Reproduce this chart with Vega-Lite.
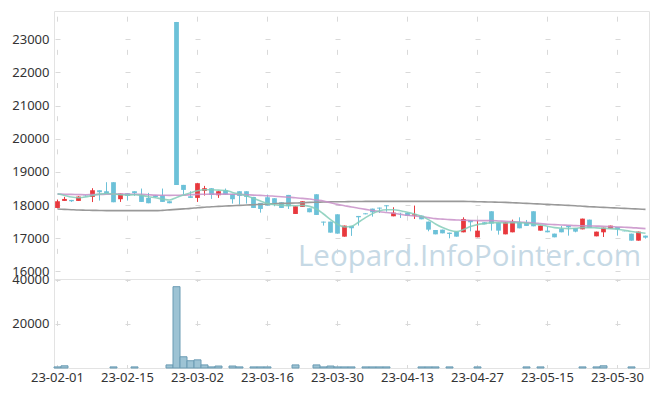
{
  "$schema": "https://vega.github.io/schema/vega-lite/v6.json",
  "background": "white",
  "padding": {"left": 5, "top": 10, "right": 9, "bottom": 0},
  "bounds": "flush",
  "config": {
    "view": {"stroke": "#e3e3e3", "strokeWidth": 1},
    "axis": {"labelFont": "Noto Sans", "labelFontSize": 13, "labelColor": "#333333", "title": null, "ticks": false, "domain": false, "gridColor": "#d9d9d9", "gridWidth": 1, "labelOverlap": false}
  },
  "datasets": {
    "k": [
      {"d":"23-02-01","o":17912,"h":18165,"l":17900,"c":18114,"v":500,"m5":18340,"m20":18330,"m60":17880},
      {"d":"23-02-02","o":18124,"h":18245,"l":18124,"c":18184,"v":1000,"m5":18290,"m20":18325,"m60":17870},
      {"d":"23-02-03","o":18155,"h":18155,"l":18094,"c":18114,"v":0,"m5":18240,"m20":18320,"m60":17860},
      {"d":"23-02-06","o":18124,"h":18265,"l":18124,"c":18255,"v":0,"m5":18220,"m20":18315,"m60":17850},
      {"d":"23-02-07","o":18285,"h":18295,"l":18255,"c":18265,"v":0,"m5":18240,"m20":18310,"m60":17845},
      {"d":"23-02-08","o":18245,"h":18507,"l":18090,"c":18446,"v":0,"m5":18290,"m20":18315,"m60":17840},
      {"d":"23-02-09","o":18446,"h":18446,"l":18134,"c":18386,"v":0,"m5":18330,"m20":18320,"m60":17835},
      {"d":"23-02-10","o":18416,"h":18688,"l":18336,"c":18336,"v":0,"m5":18350,"m20":18325,"m60":17830},
      {"d":"23-02-13","o":18688,"h":18688,"l":18084,"c":18084,"v":500,"m5":18330,"m20":18330,"m60":17830},
      {"d":"23-02-14","o":18175,"h":18346,"l":18094,"c":18346,"v":0,"m5":18310,"m20":18330,"m60":17830},
      {"d":"23-02-15","o":18356,"h":18356,"l":18134,"c":18275,"v":0,"m5":18300,"m20":18330,"m60":17830},
      {"d":"23-02-16","o":18416,"h":18416,"l":18275,"c":18356,"v":500,"m5":18310,"m20":18325,"m60":17830},
      {"d":"23-02-17","o":18295,"h":18497,"l":18094,"c":18094,"v":0,"m5":18290,"m20":18320,"m60":17830},
      {"d":"23-02-20","o":18215,"h":18366,"l":18054,"c":18054,"v":0,"m5":18250,"m20":18310,"m60":17830},
      {"d":"23-02-21","o":18290,"h":18300,"l":18230,"c":18240,"v":0,"m5":18220,"m20":18300,"m60":17830},
      {"d":"23-02-22","o":18295,"h":18497,"l":18094,"c":18094,"v":0,"m5":18180,"m20":18295,"m60":17840},
      {"d":"23-02-23","o":18114,"h":18114,"l":18054,"c":18054,"v":1400,"m5":18150,"m20":18290,"m60":17855},
      {"d":"23-02-24","o":23520,"h":23520,"l":18607,"c":18607,"v":36950,"m5":18230,"m20":18295,"m60":17870},
      {"d":"23-02-27","o":18607,"h":18607,"l":18315,"c":18456,"v":5100,"m5":18300,"m20":18300,"m60":17885},
      {"d":"23-02-28","o":18265,"h":18416,"l":18215,"c":18215,"v":3300,"m5":18370,"m20":18310,"m60":17900},
      {"d":"23-03-02","o":18215,"h":18658,"l":18094,"c":18658,"v":3700,"m5":18430,"m20":18320,"m60":17920},
      {"d":"23-03-03","o":18426,"h":18577,"l":18285,"c":18507,"v":1400,"m5":18460,"m20":18325,"m60":17935},
      {"d":"23-03-06","o":18507,"h":18507,"l":18185,"c":18305,"v":500,"m5":18460,"m20":18330,"m60":17950},
      {"d":"23-03-07","o":18295,"h":18416,"l":18215,"c":18416,"v":900,"m5":18450,"m20":18330,"m60":17960},
      {"d":"23-03-08","o":18446,"h":18497,"l":18315,"c":18315,"v":0,"m5":18440,"m20":18330,"m60":17970},
      {"d":"23-03-09","o":18336,"h":18336,"l":18044,"c":18175,"v":900,"m5":18380,"m20":18325,"m60":17980},
      {"d":"23-03-10","o":18416,"h":18416,"l":18014,"c":18275,"v":500,"m5":18330,"m20":18320,"m60":17990},
      {"d":"23-03-13","o":18416,"h":18416,"l":18044,"c":18245,"v":0,"m5":18280,"m20":18310,"m60":18000},
      {"d":"23-03-14","o":18245,"h":18245,"l":17912,"c":17912,"v":500,"m5":18200,"m20":18300,"m60":18010},
      {"d":"23-03-15","o":18064,"h":18064,"l":17771,"c":17882,"v":500,"m5":18120,"m20":18290,"m60":18020},
      {"d":"23-03-16","o":18235,"h":18315,"l":17983,"c":17983,"v":500,"m5":18050,"m20":18280,"m60":18030},
      {"d":"23-03-17","o":18205,"h":18205,"l":17963,"c":18044,"v":0,"m5":18010,"m20":18265,"m60":18040},
      {"d":"23-03-20","o":18084,"h":18084,"l":17912,"c":17912,"v":0,"m5":17990,"m20":18250,"m60":18050},
      {"d":"23-03-21","o":18305,"h":18305,"l":17882,"c":17963,"v":0,"m5":17990,"m20":18235,"m60":18055},
      {"d":"23-03-22","o":17731,"h":17963,"l":17731,"c":17963,"v":1400,"m5":17980,"m20":18220,"m60":18060},
      {"d":"23-03-23","o":17943,"h":18114,"l":17943,"c":18114,"v":0,"m5":17990,"m20":18200,"m60":18070},
      {"d":"23-03-24","o":17902,"h":17902,"l":17781,"c":17781,"v":0,"m5":17960,"m20":18180,"m60":18080},
      {"d":"23-03-27","o":18325,"h":18325,"l":17701,"c":17701,"v":1400,"m5":17880,"m20":18150,"m60":18085},
      {"d":"23-03-28","o":17500,"h":17500,"l":17380,"c":17470,"v":500,"m5":17730,"m20":18120,"m60":18090},
      {"d":"23-03-29","o":17500,"h":17500,"l":17168,"c":17168,"v":900,"m5":17560,"m20":18070,"m60":18095},
      {"d":"23-03-30","o":17721,"h":17721,"l":17138,"c":17138,"v":500,"m5":17420,"m20":18020,"m60":18100},
      {"d":"23-03-31","o":17047,"h":17380,"l":17047,"c":17380,"v":500,"m5":17340,"m20":17980,"m60":18100},
      {"d":"23-04-03","o":17370,"h":17370,"l":17070,"c":17300,"v":500,"m5":17360,"m20":17940,"m60":18105},
      {"d":"23-04-04","o":17671,"h":17671,"l":17380,"c":17631,"v":0,"m5":17480,"m20":17905,"m60":18105},
      {"d":"23-04-05","o":17751,"h":17751,"l":17721,"c":17721,"v":500,"m5":17620,"m20":17870,"m60":18110},
      {"d":"23-04-06","o":17892,"h":17892,"l":17650,"c":17781,"v":500,"m5":17740,"m20":17835,"m60":18110},
      {"d":"23-04-07","o":17922,"h":17922,"l":17760,"c":17892,"v":500,"m5":17830,"m20":17800,"m60":18110},
      {"d":"23-04-10","o":17993,"h":17993,"l":17800,"c":17963,"v":500,"m5":17860,"m20":17775,"m60":18110},
      {"d":"23-04-11","o":17661,"h":17933,"l":17661,"c":17771,"v":0,"m5":17860,"m20":17750,"m60":18110},
      {"d":"23-04-12","o":17765,"h":17765,"l":17610,"c":17755,"v":0,"m5":17830,"m20":17720,"m60":18110},
      {"d":"23-04-13","o":17771,"h":17771,"l":17671,"c":17671,"v":0,"m5":17780,"m20":17690,"m60":18110},
      {"d":"23-04-14","o":17681,"h":17983,"l":17580,"c":17721,"v":0,"m5":17730,"m20":17670,"m60":18110},
      {"d":"23-04-17","o":17681,"h":17681,"l":17570,"c":17570,"v":500,"m5":17660,"m20":17650,"m60":18110},
      {"d":"23-04-18","o":17500,"h":17500,"l":17208,"c":17258,"v":500,"m5":17560,"m20":17620,"m60":18110},
      {"d":"23-04-19","o":17248,"h":17248,"l":17117,"c":17117,"v":500,"m5":17430,"m20":17590,"m60":18110},
      {"d":"23-04-20","o":17258,"h":17258,"l":17147,"c":17147,"v":0,"m5":17320,"m20":17575,"m60":18110},
      {"d":"23-04-21","o":17168,"h":17168,"l":16997,"c":17128,"v":500,"m5":17240,"m20":17560,"m60":18110},
      {"d":"23-04-24","o":17198,"h":17198,"l":17047,"c":17047,"v":0,"m5":17200,"m20":17550,"m60":18110},
      {"d":"23-04-25","o":17178,"h":17630,"l":17178,"c":17580,"v":0,"m5":17260,"m20":17540,"m60":18110},
      {"d":"23-04-26","o":17550,"h":17550,"l":17208,"c":17480,"v":0,"m5":17350,"m20":17535,"m60":18105},
      {"d":"23-04-27","o":17027,"h":17530,"l":17027,"c":17228,"v":500,"m5":17410,"m20":17530,"m60":18100},
      {"d":"23-04-28","o":17480,"h":17480,"l":17420,"c":17420,"v":0,"m5":17440,"m20":17530,"m60":18095},
      {"d":"23-05-02","o":17812,"h":17812,"l":17228,"c":17440,"v":0,"m5":17470,"m20":17530,"m60":18090},
      {"d":"23-05-03","o":17470,"h":17470,"l":17108,"c":17228,"v":0,"m5":17470,"m20":17520,"m60":18085},
      {"d":"23-05-04","o":17117,"h":17480,"l":17117,"c":17480,"v":0,"m5":17460,"m20":17510,"m60":18080},
      {"d":"23-05-08","o":17178,"h":17560,"l":17178,"c":17500,"v":0,"m5":17470,"m20":17500,"m60":18070},
      {"d":"23-05-09","o":17490,"h":17630,"l":17298,"c":17298,"v":0,"m5":17470,"m20":17490,"m60":18060},
      {"d":"23-05-10","o":17470,"h":17550,"l":17370,"c":17370,"v":500,"m5":17450,"m20":17475,"m60":18050},
      {"d":"23-05-11","o":17812,"h":17812,"l":17359,"c":17359,"v":0,"m5":17430,"m20":17460,"m60":18040},
      {"d":"23-05-12","o":17228,"h":17380,"l":17228,"c":17380,"v":500,"m5":17400,"m20":17440,"m60":18030},
      {"d":"23-05-15","o":17228,"h":17349,"l":17178,"c":17178,"v":0,"m5":17360,"m20":17420,"m60":18020},
      {"d":"23-05-16","o":17138,"h":17138,"l":17027,"c":17027,"v":0,"m5":17320,"m20":17410,"m60":18010},
      {"d":"23-05-17","o":17288,"h":17369,"l":17178,"c":17178,"v":0,"m5":17300,"m20":17400,"m60":18000},
      {"d":"23-05-18","o":17379,"h":17379,"l":17077,"c":17329,"v":0,"m5":17290,"m20":17390,"m60":17990},
      {"d":"23-05-19","o":17308,"h":17308,"l":17178,"c":17198,"v":0,"m5":17300,"m20":17380,"m60":17980},
      {"d":"23-05-22","o":17268,"h":17590,"l":17268,"c":17590,"v":500,"m5":17320,"m20":17375,"m60":17965},
      {"d":"23-05-23","o":17560,"h":17560,"l":17308,"c":17308,"v":0,"m5":17320,"m20":17370,"m60":17950},
      {"d":"23-05-24","o":17057,"h":17198,"l":17057,"c":17198,"v":500,"m5":17310,"m20":17365,"m60":17940},
      {"d":"23-05-25","o":17178,"h":17318,"l":17037,"c":17318,"v":1000,"m5":17300,"m20":17360,"m60":17930},
      {"d":"23-05-26","o":17288,"h":17379,"l":17288,"c":17379,"v":0,"m5":17290,"m20":17350,"m60":17920},
      {"d":"23-05-30","o":17338,"h":17338,"l":17077,"c":17268,"v":0,"m5":17270,"m20":17340,"m60":17910},
      {"d":"23-05-31","o":17198,"h":17198,"l":17188,"c":17188,"v":0,"m5":17240,"m20":17330,"m60":17900},
      {"d":"23-06-01","o":17138,"h":17138,"l":16926,"c":16926,"v":500,"m5":17200,"m20":17320,"m60":17890},
      {"d":"23-06-02","o":16926,"h":17198,"l":16926,"c":17198,"v":0,"m5":17170,"m20":17305,"m60":17880},
      {"d":"23-06-05","o":17077,"h":17077,"l":16987,"c":17017,"v":0,"m5":17150,"m20":17290,"m60":17870}
    ]
  },
  "spacing": 0,
  "resolve": {"scale": {"x": "shared", "y": "independent"}},
  "vconcat": [
    {
      "width": 595,
      "height": 268,
      "data": {"name": "k"},
      "encoding": {
        "x": {"field": "d", "type": "ordinal", "sort": null,
          "scale": {"paddingInner": 0, "paddingOuter": 0, "domain": ["23-02-01","23-02-02","23-02-03","23-02-06","23-02-07","23-02-08","23-02-09","23-02-10","23-02-13","23-02-14","23-02-15","23-02-16","23-02-17","23-02-20","23-02-21","23-02-22","23-02-23","23-02-24","23-02-27","23-02-28","23-03-02","23-03-03","23-03-06","23-03-07","23-03-08","23-03-09","23-03-10","23-03-13","23-03-14","23-03-15","23-03-16","23-03-17","23-03-20","23-03-21","23-03-22","23-03-23","23-03-24","23-03-27","23-03-28","23-03-29","23-03-30","23-03-31","23-04-03","23-04-04","23-04-05","23-04-06","23-04-07","23-04-10","23-04-11","23-04-12","23-04-13","23-04-14","23-04-17","23-04-18","23-04-19","23-04-20","23-04-21","23-04-24","23-04-25","23-04-26","23-04-27","23-04-28","23-05-02","23-05-03","23-05-04","23-05-08","23-05-09","23-05-10","23-05-11","23-05-12","23-05-15","23-05-16","23-05-17","23-05-18","23-05-19","23-05-22","23-05-23","23-05-24","23-05-25","23-05-26","23-05-30","23-05-31","23-06-01","23-06-02","23-06-05"]},
          "axis": {"values": ["23-02-01","23-02-15","23-03-02","23-03-16","23-03-30","23-04-13","23-04-27","23-05-15","23-05-30"], "labels": false, "grid": true, "gridDash": [5, 28.17], "gridDashOffset": 28.0, "minExtent": 0, "maxExtent": 0, "labelPadding": 0}
        },
        "y": {"field": "l", "type": "quantitative",
          "scale": {"domain": [15770, 23850], "nice": false, "zero": false},
          "axis": {"values": [16000,17000,18000,19000,20000,21000,22000,23000], "format": "d", "grid": true, "gridDash": [5, 65], "gridDashOffset": 69, "labelPadding": 5, "minExtent": 48, "maxExtent": 48}}
      },
      "layer": [
        {
          "mark": {"type": "rule", "strokeWidth": 1},
          "encoding": {
            "y2": {"field": "h"},
            "color": {"condition": {"test": "datum.c > datum.o", "value": "#e8383d"}, "value": "#6cc1d8"}
          }
        },
        {
          "data": {"values": [{"w": "Leopard.InfoPointer.com", "px": "23-04-26", "py": 16160}]},
          "mark": {"type": "text", "font": "Open Sans", "fontSize": 29.5, "color": "#c6d9e5", "align": "center", "baseline": "alphabetic", "dx": -1},
          "encoding": {
            "x": {"field": "px", "type": "ordinal"},
            "y": {"field": "py", "type": "quantitative"},
            "text": {"field": "w"}
          }
        },
        {
          "mark": {"type": "bar", "width": {"band": 0.68}},
          "encoding": {
            "y": {"field": "o", "type": "quantitative"},
            "y2": {"field": "c"},
            "color": {"condition": {"test": "datum.c > datum.o", "value": "#e8383d"}, "value": "#6cc1d8"}
          }
        },
        {
          "mark": {"type": "line", "color": "#999999", "strokeWidth": 1.6, "interpolate": "monotone"},
          "encoding": {"y": {"field": "m60", "type": "quantitative"}}
        },
        {
          "mark": {"type": "line", "color": "#c88fc8", "strokeWidth": 1.6, "opacity": 0.85, "interpolate": "monotone"},
          "encoding": {"y": {"field": "m20", "type": "quantitative"}}
        },
        {
          "mark": {"type": "line", "color": "#84cdb9", "strokeWidth": 1.6, "opacity": 0.85, "interpolate": "monotone"},
          "encoding": {"y": {"field": "m5", "type": "quantitative"}}
        }
      ]
    },
    {
      "width": 595,
      "height": 89,
      "data": {"name": "k"},
      "transform": [{"filter": "datum.v > 0"}],
      "mark": {"type": "bar", "width": {"band": 1}, "color": "#9dc3d4", "stroke": "#6a9bb3", "strokeWidth": 1},
      "encoding": {
        "x": {"field": "d", "type": "ordinal", "sort": null,
          "scale": {"paddingInner": 0, "paddingOuter": 0, "domain": ["23-02-01","23-02-02","23-02-03","23-02-06","23-02-07","23-02-08","23-02-09","23-02-10","23-02-13","23-02-14","23-02-15","23-02-16","23-02-17","23-02-20","23-02-21","23-02-22","23-02-23","23-02-24","23-02-27","23-02-28","23-03-02","23-03-03","23-03-06","23-03-07","23-03-08","23-03-09","23-03-10","23-03-13","23-03-14","23-03-15","23-03-16","23-03-17","23-03-20","23-03-21","23-03-22","23-03-23","23-03-24","23-03-27","23-03-28","23-03-29","23-03-30","23-03-31","23-04-03","23-04-04","23-04-05","23-04-06","23-04-07","23-04-10","23-04-11","23-04-12","23-04-13","23-04-14","23-04-17","23-04-18","23-04-19","23-04-20","23-04-21","23-04-24","23-04-25","23-04-26","23-04-27","23-04-28","23-05-02","23-05-03","23-05-04","23-05-08","23-05-09","23-05-10","23-05-11","23-05-12","23-05-15","23-05-16","23-05-17","23-05-18","23-05-19","23-05-22","23-05-23","23-05-24","23-05-25","23-05-26","23-05-30","23-05-31","23-06-01","23-06-02","23-06-05"]},
          "axis": {"values": ["23-02-01","23-02-15","23-03-02","23-03-16","23-03-30","23-04-13","23-04-27","23-05-15","23-05-30"], "labelAngle": 0, "labelPadding": 3, "grid": true, "gridDash": [5, 39], "gridDashOffset": 2.5}
        },
        "y": {"field": "v", "type": "quantitative",
          "scale": {"domain": [0, 40450], "nice": false},
          "axis": {"values": [20000, 40000], "format": "d", "grid": true, "gridDash": [5, 65], "gridDashOffset": 69, "labelPadding": 5, "minExtent": 48, "maxExtent": 48}}
      }
    }
  ]
}
